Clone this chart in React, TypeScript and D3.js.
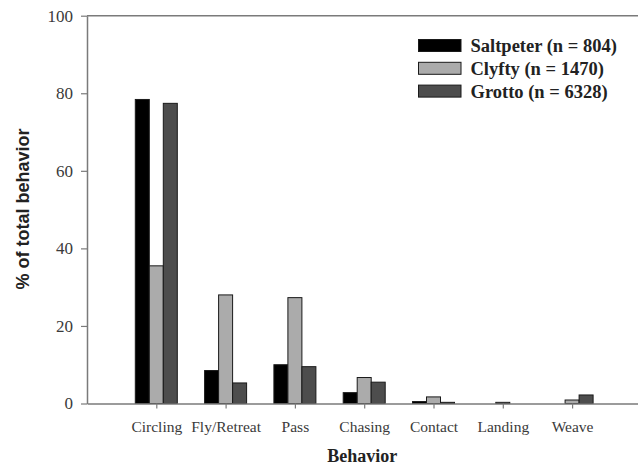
import React, { useEffect, useRef } from 'react';
import * as d3 from 'd3';

const categories = ['Circling', 'Fly/Retreat', 'Pass', 'Chasing', 'Contact', 'Landing', 'Weave'];
const seriesNames = ['Saltpeter (n = 804)', 'Clyfty (n = 1470)', 'Grotto (n = 6328)'];
const saltpeter = [78.4, 8.5, 10.0, 2.8, 0.5, 0, 0];
const clyfty = [35.5, 28.0, 27.3, 6.7, 1.7, 0.3, 0.9];
const grotto = [77.4, 5.3, 9.5, 5.5, 0.3, 0, 2.2];
const yTicks = [0, 20, 40, 60, 80, 100];
const colors = ['#000000', '#ababab', '#4d4d4d'];

export default function App() {
  const svgRef = useRef<SVGSVGElement>(null);

  useEffect(() => {
    if (!svgRef.current) return;
    const svg = d3.select(svgRef.current);
    svg.selectAll('*').remove();

    const W = 638;
    const left = 87, top = 15.7, bottom = 403.5;
    const x = d3.scaleLinear().domain([0, categories.length + 1]).range([left, left + 69.3 * 8]);
    const y = d3.scaleLinear().domain([0, 100]).range([bottom, top]);
    const inner = d3.scaleBand().domain(seriesNames).range([-21, 21]).padding(0);

    const serif = '"Liberation Serif", "Times New Roman", serif';
    const axisCol = '#7a7a7a';

    const data = [saltpeter, clyfty, grotto];

    // bars
    data.forEach((vals, si) => {
      svg.append('g')
        .selectAll('rect')
        .data(vals.map((v, i) => ({ v, i })).filter((d) => d.v > 0))
        .join('rect')
        .attr('x', (d) => x(d.i + 1) + (inner(seriesNames[si]) ?? 0))
        .attr('y', (d) => y(d.v))
        .attr('width', inner.bandwidth())
        .attr('height', (d) => y(0) - y(d.v))
        .attr('fill', colors[si])
        .attr('stroke', '#1a1a1a')
        .attr('stroke-width', 1);
    });

    // top frame line
    svg.append('line')
      .attr('x1', left).attr('x2', W)
      .attr('y1', top).attr('y2', top)
      .attr('stroke', axisCol).attr('stroke-width', 1.5);

    // y axis
    const yAxis = svg.append('g')
      .attr('transform', `translate(${left},0)`)
      .call(d3.axisLeft(y).tickValues(yTicks).tickSize(6).tickSizeOuter(0));
    yAxis.attr('font-family', serif);
    yAxis.select('.domain').attr('stroke', axisCol).attr('stroke-width', 1.5);
    yAxis.selectAll('line').attr('stroke', axisCol).attr('stroke-width', 1.2);
    yAxis.selectAll('text')
      .style('font-family', serif)
      .attr('font-size', 17)
      .attr('fill', '#3a3a3a')
      .attr('x', -14);

    // x axis
    const xAxis = svg.append('g')
      .attr('transform', `translate(0,${bottom})`)
      .call(
        d3.axisBottom(x)
          .tickValues(categories.map((_, i) => i + 1))
          .tickFormat((d) => categories[(d as number) - 1])
          .tickSize(5)
          .tickSizeOuter(0)
      );
    xAxis.attr('font-family', serif);
    xAxis.select('.domain').attr('stroke', axisCol).attr('stroke-width', 1.5);
    xAxis.selectAll('line').attr('stroke', axisCol).attr('stroke-width', 1.2);
    xAxis.selectAll('text')
      .style('font-family', serif)
      .attr('font-size', 15.5)
      .attr('fill', '#3a3a3a')
      .attr('y', 17);

    // axis titles
    svg.append('text')
      .attr('x', (left + x(categories.length + 1)) / 2 - 2)
      .attr('y', 462)
      .attr('text-anchor', 'middle')
      .style('font-family', serif)
      .attr('font-weight', 'bold')
      .attr('font-size', 18)
      .attr('fill', '#222')
      .text('Behavior');

    svg.append('text')
      .attr('transform', `translate(29,209) rotate(-90)`)
      .attr('text-anchor', 'middle')
      .style('font-family', '"Liberation Sans", Arial, sans-serif')
      .attr('font-weight', 'bold')
      .attr('font-size', 18)
      .attr('fill', '#222')
      .text('% of total behavior');

    // legend
    const lg = svg.append('g');
    seriesNames.forEach((name, i) => {
      const ly = 39.5 + i * 22.8;
      lg.append('rect')
        .attr('x', 418.5).attr('y', ly)
        .attr('width', 42.5).attr('height', 12)
        .attr('fill', colors[i])
        .attr('stroke', '#1a1a1a').attr('stroke-width', 1);
      lg.append('text')
        .attr('x', 470.5).attr('y', ly + 12.5)
        .style('font-family', serif)
        .attr('font-weight', 'bold')
        .attr('font-size', 18.5)
        .attr('fill', '#222')
        .text(name);
    });
  }, []);

  return (
    <svg
      ref={svgRef}
      width={638}
      height={467}
      style={{ position: 'fixed', left: 0, top: 0, background: '#fff', display: 'block' }}
    />
  );
}
